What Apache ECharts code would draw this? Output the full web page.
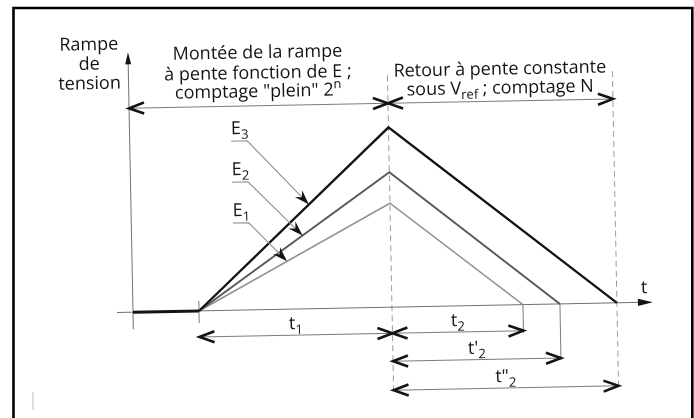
<!DOCTYPE html>
<html>
<head>
<meta charset="utf-8">
<script src="https://cdn.jsdelivr.net/npm/echarts@6.0.0/dist/echarts.min.js"></script>
<style>
html,body{margin:0;padding:0;background:#ffffff;}
#chart{width:694px;height:418px;}
</style>
</head>
<body>
<div id="chart"></div>
<script>
// ---------- data (arbitrary time / voltage units) ----------
const inputNames   = ['E1', 'E2', 'E3'];
const rampPeaks    = [104, 135, 180];   // ramp voltage at the end of the run-up (E1, E2, E3)
const runUpTime    = 193;               // t1, identical for every input
const runDownTimes = [131, 168, 225];   // t2, t'2, t"2
const idleStart    = -66;               // the trace starts on the vertical axis
const timeAxisSpan = [-82, 454];
const voltAxisSpan = [-17, 260];

// ---------- texts ----------
const voltAxisTitle = ['Rampe', 'de', 'tension'];
const timeAxisTitle = 't';
const runUpTitle = [[{t:'Montée de la rampe'}], [{t:'à pente fonction de E ;'}], [{t:'comptage "plein" 2'}, {t:'n', sup:true}]];
const runDownTitle = [[{t:'Retour à pente constante'}], [{t:'sous V'}, {t:'ref', sub:true}, {t:' ; comptage N'}]];
const runUpLabel = [{t:'t'}, {t:'1', sub:true}];
const runDownLabels = [[{t:'t'},{t:'2',sub:true}], [{t:"t'"},{t:'2',sub:true}], [{t:'t"'},{t:'2',sub:true}]];

// ---------- layout / style ----------
const L = {
  rot: 0.0195,
  topDim: 204,
  lowDims: [-26, -54, -83],
  dimLabelLift: 11,
  runUpTitleV: [256.8, 236.3, 217.8],
  runDownTitleV: [235.6, 216.6],
  voltTitleT: -105, voltTitleV: [268, 248.5, 229],
  timeTitle: [445.5, 14.3],
  guide: [-88, 232],
  eLabelT: 35.5, eUnderEnd: 51.5, eUnderV: [87.2, 128.2, 169.2], eLift: 12,
  leaderTipT: [89, 105, 112]
};
const INK = '#141414', AXIS = '#707070', DIM = '#7c7c7c', LEAD = '#8c8c8c', DASH = '#9c9c9c';
const rampColors = ['#949494', '#5a5a5a', '#141414'];
const rampWidths = [1.5, 2, 2.4];
const FONT = '"Open Sans", "Noto Sans", sans-serif';
const FS = 18, SUBFS = 13;

const mctx = document.createElement('canvas').getContext('2d');
function tw(text, size) { mctx.font = size + 'px ' + FONT; return mctx.measureText(text).width; }
function P(api, t, v) { return api.coord([t, v]); }
function wrap(api, children) {
  const o = api.coord([0, 0]);
  return { type: 'group', rotation: L.rot, originX: o[0], originY: o[1], children: children };
}
function line(pts, stroke, w, dash) {
  return { type: 'polyline', shape: { points: pts }, style: { stroke: stroke, lineWidth: w, fill: null, lineDash: dash || null } };
}
function poly(pts, fill) { return { type: 'polygon', shape: { points: pts }, style: { fill: fill } }; }
function txt(x, y, text, size, align) {
  return { type: 'text', x: x, y: y, style: { text: text, font: size + 'px ' + FONT, fill: INK,
    align: align, verticalAlign: 'middle', textAlign: align, textVerticalAlign: 'middle' } };
}
function richText(x, y, parts, align) {
  let total = 0;
  const ws = parts.map(p => { const w = tw(p.t, (p.sub || p.sup) ? SUBFS : FS); total += w; return w; });
  let cx = align === 'center' ? x - total / 2 : (align === 'right' ? x - total : x);
  const out = [];
  parts.forEach((p, i) => {
    const size = (p.sub || p.sup) ? SUBFS : FS;
    const dy = p.sub ? 6 : (p.sup ? -6 : 0);
    out.push(txt(cx, y + dy, p.t, size, 'left'));
    cx += ws[i];
  });
  return out;
}
function chevron(tip, dir, len, half) {
  len = len || 15; half = half || 5.5;
  const bx = tip[0] - dir[0] * len, by = tip[1] - dir[1] * len;
  const px = -dir[1] * half, py = dir[0] * half;
  return line([[bx + px, by + py], tip, [bx - px, by - py]], INK, 2.6);
}
function arrowHead(tip, dir, len, half, notch) {
  const b = [tip[0] - dir[0] * len, tip[1] - dir[1] * len];
  const n = [tip[0] - dir[0] * (len - notch), tip[1] - dir[1] * (len - notch)];
  const p = [-dir[1] * half, dir[0] * half];
  return poly([tip, [b[0] + p[0], b[1] + p[1]], n, [b[0] - p[0], b[1] - p[1]]], INK);
}

// ---------- renderers ----------
function renderAxes(params, api) {
  const t0 = api.value(0), t1 = api.value(1), v0 = api.value(2), v1 = api.value(3), ta = api.value(4);
  const xa = P(api, t0, 0), xb = P(api, t1, 0);
  const ya = P(api, ta, v0), yb = P(api, ta, v1);
  const ch = [
    line([xa, [xb[0] - 8, xb[1]]], AXIS, 1),
    arrowHead(xb, [1, 0], 15, 3.6, 0),
    line([ya, [yb[0], yb[1] + 8]], AXIS, 1),
    arrowHead(yb, [0, -1], 12, 3, 0)
  ];
  const tp = P(api, L.timeTitle[0], L.timeTitle[1]);
  ch.push(txt(tp[0], tp[1], timeAxisTitle, FS, 'center'));
  voltAxisTitle.forEach((s, i) => { const p = P(api, L.voltTitleT, L.voltTitleV[i]); ch.push(txt(p[0], p[1], s, FS, 'center')); });
  return wrap(api, ch);
}
function renderIdle(params, api) {
  return wrap(api, [line([P(api, api.value(0), 0), P(api, api.value(1), 0)], INK, 3)]);
}
function renderRamp(params, api) {
  const i = params.dataIndex;
  const tUp = api.value(0), peak = api.value(1), tDown = api.value(2);
  const pts = [P(api, 0, 0), P(api, tUp, peak), P(api, tUp + tDown, 0)];
  const el = line(pts, rampColors[i], rampWidths[i]);
  el.style.lineJoin = 'miter';
  return wrap(api, [el]);
}
function renderGuides(params, api) {
  const ch = [];
  // dashed verticals at the end of run-up and at the end of the longest run-down
  [runUpTime, runUpTime + runDownTimes[2]].forEach(t => ch.push(line([P(api, t, L.guide[1]), P(api, t, L.guide[0])], DASH, 1, [6, 4])));
  // extension lines
  ch.push(line([P(api, 0, 10), P(api, 0, -12)], DIM, 1));
  ch.push(line([P(api, runUpTime + runDownTimes[0], 0), P(api, runUpTime + runDownTimes[0], L.lowDims[0] - 2)], DIM, 1));
  ch.push(line([P(api, runUpTime + runDownTimes[1], 0), P(api, runUpTime + runDownTimes[1], L.lowDims[1] - 2)], DIM, 1));
  return wrap(api, ch);
}
function dimension(api, a, b, v, labelParts, labelV) {
  const pa = P(api, a, v), pb = P(api, b, v);
  const ch = [line([pa, pb], DIM, 1), chevron(pa, [-1, 0]), chevron(pb, [1, 0])];
  if (labelParts) {
    const c = P(api, (a + b) / 2, labelV == null ? v + L.dimLabelLift : labelV);
    richText(c[0], c[1], labelParts, 'center').forEach(e => ch.push(e));
  }
  return ch;
}
function renderDims(params, api) {
  const end = runUpTime + runDownTimes[2];
  let ch = [];
  ch = ch.concat(dimension(api, idleStart, runUpTime, L.topDim));
  runUpTitle.forEach((parts, i) => {
    const c = P(api, (idleStart + runUpTime) / 2, L.runUpTitleV[i]);
    ch = ch.concat(richText(c[0], c[1], parts, 'center'));
  });
  ch = ch.concat(dimension(api, runUpTime, end, L.topDim));
  runDownTitle.forEach((parts, i) => {
    const c = P(api, (runUpTime + end) / 2, L.runDownTitleV[i]);
    ch = ch.concat(richText(c[0], c[1], parts, 'center'));
  });
  ch = ch.concat(dimension(api, 0, runUpTime, L.lowDims[0], runUpLabel));
  runDownTimes.forEach((d, i) => {
    ch = ch.concat(dimension(api, runUpTime, runUpTime + d, L.lowDims[i], runDownLabels[i]));
  });
  return wrap(api, ch);
}
function renderInputLabel(params, api) {
  const i = params.dataIndex;
  const tUp = api.value(0), peak = api.value(1);
  const name = inputNames[i];
  const uv = L.eUnderV[i];
  const u0 = P(api, L.eLabelT, uv), u1 = P(api, L.eUnderEnd, uv);
  const tipT = L.leaderTipT[i];
  const tip = P(api, tipT, peak / tUp * tipT);
  const dx = tip[0] - u1[0], dy = tip[1] - u1[1], d = Math.hypot(dx, dy);
  const dir = [dx / d, dy / d];
  const ch = [line([u0, u1, [tip[0] - dir[0] * 8, tip[1] - dir[1] * 8]], LEAD, 1), arrowHead(tip, dir, 15, 5, 5)];
  const lp = P(api, L.eLabelT, uv + L.eLift);
  richText(lp[0], lp[1], [{t: name[0]}, {t: name.slice(1), sub: true}], 'left').forEach(e => ch.push(e));
  return wrap(api, ch);
}

const chart = echarts.init(document.getElementById('chart'), null, { renderer: 'canvas' });
chart.setOption({
  animation: false,
  backgroundColor: '#ffffff',
  grid: { left: 0, right: 0, top: 0, bottom: 0 },
  xAxis: { type: 'value', min: -199, max: 495, show: false },
  yAxis: { type: 'value', min: -107, max: 311, show: false },
  graphic: [
    { type: 'rect', shape: { x: 13.5, y: 8, width: 678.8, height: 440 }, style: { fill: null, stroke: '#000', lineWidth: 2.6 }, silent: true },
    { type: 'line', shape: { x1: 33, y1: 392, x2: 33, y2: 410 }, style: { stroke: '#c8c8c8', lineWidth: 1.2 }, silent: true }
  ],
  series: [
    { type: 'custom', name: 'guides', silent: true, data: [[runUpTime, 0]], renderItem: renderGuides },
    { type: 'custom', name: 'axes', silent: true, data: [[timeAxisSpan[0], timeAxisSpan[1], voltAxisSpan[0], voltAxisSpan[1], idleStart]], renderItem: renderAxes },
    { type: 'custom', name: 'dims', silent: true, data: [[runUpTime, 0]], renderItem: renderDims },
    { type: 'custom', name: 'idle', silent: true, data: [[idleStart, 0]], renderItem: renderIdle },
    { type: 'custom', name: 'ramps', silent: true, data: rampPeaks.map((p, i) => [runUpTime, p, runDownTimes[i]]), renderItem: renderRamp },
    { type: 'custom', name: 'inputs', silent: true, data: rampPeaks.map(p => [runUpTime, p]), renderItem: renderInputLabel }
  ]
});
</script>
</body>
</html>
